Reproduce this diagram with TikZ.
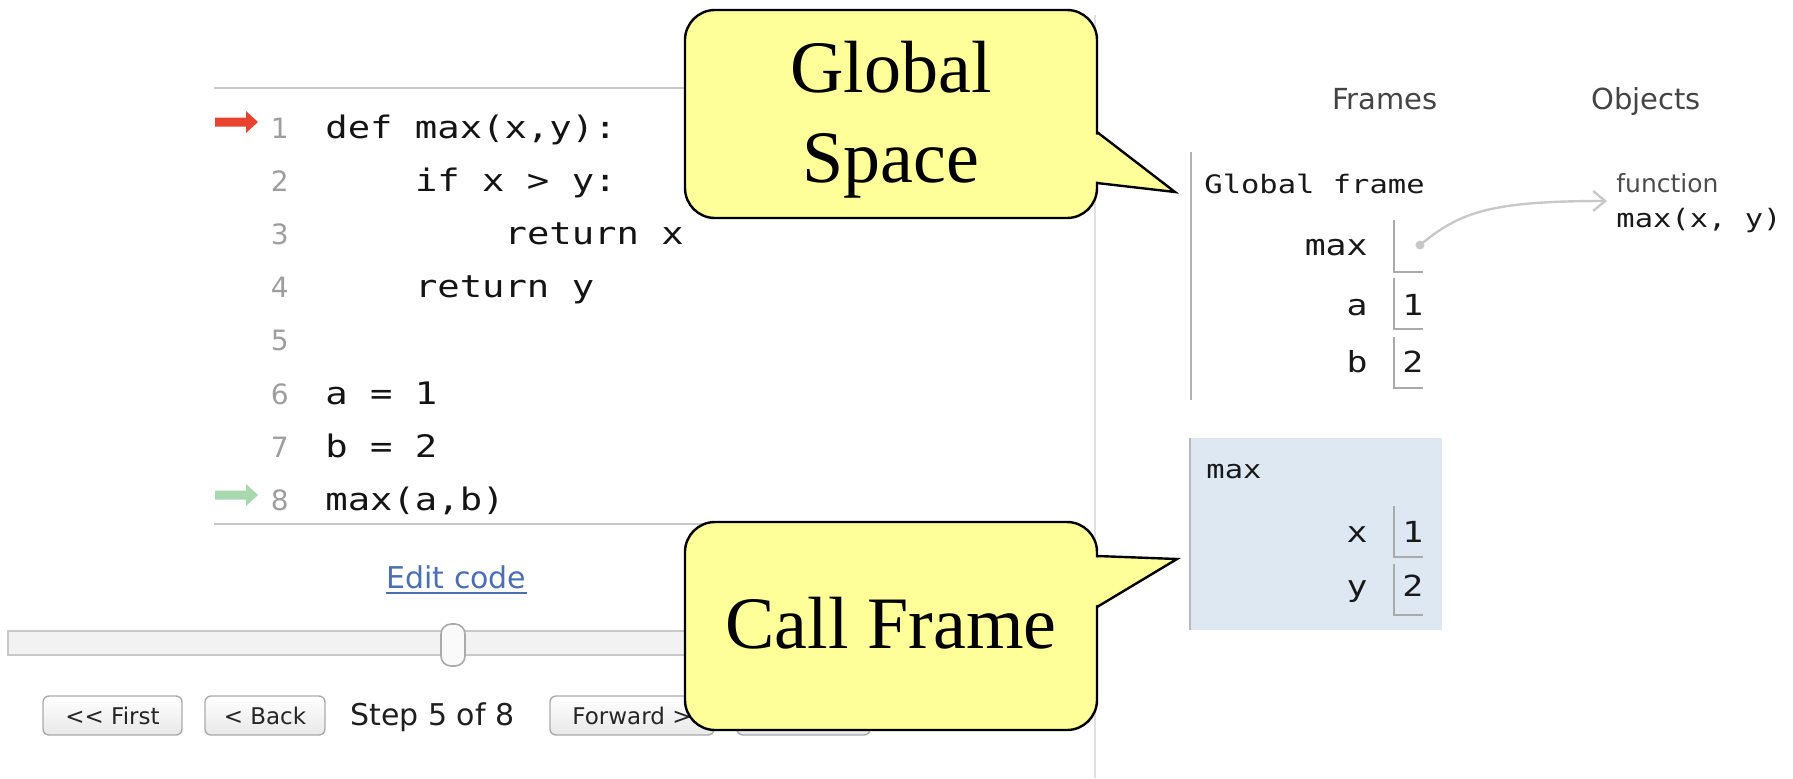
\documentclass[tikz,border=0pt]{standalone}
\usepackage{fontspec}
\setmainfont{Liberation Serif}
\newfontfamily\codefont[FakeStretch=1.2]{DejaVu Sans Mono}
\newfontfamily\uifont{DejaVu Sans}
\usetikzlibrary{arrows.meta}
\definecolor{calloutfill}{HTML}{FFFF99}
\definecolor{arrowred}{HTML}{E8432E}
\definecolor{arrowgreen}{HTML}{A8D8B0}
\definecolor{linkblue}{HTML}{4A6FB5}
\definecolor{framebg}{HTML}{DEE8F3}
\definecolor{rulegray}{HTML}{C8C8C8}
\definecolor{boxgray}{HTML}{AAAAAA}
\definecolor{txtgray}{HTML}{444444}
\begin{document}
\begin{tikzpicture}[x=0.5pt,y=-0.5pt,
  codetxt/.style={font=\codefont\fontsize{15.5}{18}\selectfont, anchor=base west, inner sep=0pt, text=black!92},
  lnum/.style={font=\uifont\fontsize{14}{16}\selectfont, text=black!38, anchor=base east, inner sep=0pt},
  uitxt/.style={font=\uifont\fontsize{15}{18}\selectfont, inner sep=0pt, text=black!88},
  btn/.style={draw=boxgray, line width=0.7pt, rounded corners=3pt, top color=white, bottom color=black!9,
     minimum height=19.5pt, inner sep=0pt, font=\uifont\fontsize{11.5}{14}\selectfont, text=black!85},
  hdr/.style={font=\uifont\fontsize{14.5}{17}\selectfont, text=txtgray, anchor=base, inner sep=0pt},
  varname/.style={font=\codefont\fontsize{14.5}{17}\selectfont, anchor=base east, inner sep=0pt, text=black!90},
  varval/.style={font=\codefont\fontsize{14.5}{17}\selectfont, anchor=base west, inner sep=0pt, text=black!90},
  smallmono/.style={font=\codefont\fontsize{12.7}{15}\selectfont, anchor=base west, inner sep=0pt, text=black!90},
  valbox/.style={draw=boxgray, line width=1pt},
  calloutbody/.style={fill=calloutfill, draw=black, line width=1.2pt, rounded corners=15pt},
  callouttxt/.style={font=\fontsize{37}{44}\selectfont, anchor=base, inner sep=0pt},
  rulesty/.style={draw=rulegray, line width=1pt}
]
\useasboundingbox (0,0) rectangle (1793,778);

% ---------- code panel ----------
\draw[rulesty] (214,88) -- (900,88);
\draw[rulesty] (214,524) -- (900,524);

% arrows
\fill[arrowred] (215,117.5) -- (246,117.5) -- (246,111) -- (258,122) -- (246,133) -- (246,126.5) -- (215,126.5) -- cycle;
\fill[arrowgreen] (215,490.5) -- (246,490.5) -- (246,484) -- (258,495) -- (246,506) -- (246,499.5) -- (215,499.5) -- cycle;

\node[lnum] (n1) at (289,138) {1};
\node[lnum] (n2) at (289,191.2) {2};
\node[lnum] (n3) at (289,244.4) {3};
\node[lnum] (n4) at (289,297.6) {4};
\node[lnum] (n5) at (289,350.8) {5};
\node[lnum] (n6) at (289,404) {6};
\node[lnum] (n7) at (289,457.2) {7};
\node[lnum] (n8) at (289,510.4) {8};

\node[codetxt] (c1) at (325,138) {def max(x,y):};
\node[codetxt] (c2) at (414.6,191.2) {if x > y:};
\node[codetxt] (c3) at (504.2,244.4) {return x};
\node[codetxt] (c4) at (414.6,297.6) {return y};
\node[codetxt] (c6) at (325,404) {a = 1};
\node[codetxt] (c7) at (325,457.2) {b = 2};
\node[codetxt] (c8) at (325,510.4) {max(a,b)};

\node[uitxt, text=linkblue, anchor=base west] (edit) at (386,588) {Edit code};
\draw[linkblue, line width=0.8pt] ([yshift=-2.5pt]edit.base west) -- ([yshift=-2.5pt]edit.base east);

% slider
\draw[draw=rulegray, fill=black!5, line width=0.8pt] (8,631) rectangle (900,655);
\node[draw=boxgray, fill=black!2, line width=0.8pt, rounded corners=5pt, minimum width=12pt, minimum height=21pt, inner sep=0pt] (knob) at (453,645) {};

% buttons
\node[btn, minimum width=69.5pt] (first) at (112.5,715.5) {<< First};
\node[btn, minimum width=60pt] (back) at (265,715.5) {< Back};
\node[uitxt, anchor=base west] (step) at (350,725) {Step 5 of 8};
\node[btn, minimum width=82pt] (fwd) at (632,715.5) {Forward >};
\node[btn, minimum width=66.5pt] (last) at (803.5,715.5) {};

% separator
\draw[draw=black!12, line width=1pt] (1095,15) -- (1095,778);

% ---------- frames panel ----------
\node[hdr] (frames) at (1385,109) {Frames};
\node[hdr] (objects) at (1646,109) {Objects};

\draw[draw=black!30, line width=1pt] (1191,152) -- (1191,400);
\node[smallmono] (gf) at (1204,193) {Global frame};

\node[varname] (vmax) at (1368,255) {max};
\draw[valbox] (1394,220) -- (1394,272) -- (1423,272);
\node[varname] (va) at (1368,315) {a};
\draw[valbox] (1394,278) -- (1394,329) -- (1423,329);
\node[varval] (va1) at (1402,315) {1};
\node[varname] (vb) at (1368,372) {b};
\draw[valbox] (1394,337) -- (1394,388) -- (1423,388);
\node[varval] (vb2) at (1402,372) {2};

\node[circle, fill=rulegray, inner sep=0pt, minimum size=4.5pt] (dot) at (1420,245) {};
\node[font=\uifont\fontsize{12.5}{15}\selectfont, text=black!70, anchor=base west, inner sep=0pt] (fn) at (1616,192) {function};
\node[smallmono] (fsig) at (1616,227) {max(x, y)};
\coordinate (fnin) at (1607,201);
\draw[draw=rulegray, line width=1.2pt, -{Straight Barb[length=6pt,width=10pt]}] (dot.center) .. controls (1460,212) and (1490,201) .. (fnin);

% call frame
\fill[framebg] (1189,438) rectangle (1442,630);
\draw[draw=black!28, line width=1.2pt] (1190,438) -- (1190,630);
\node[smallmono] (cfmax) at (1206,478) {max};
\node[varname] (vx) at (1368,542) {x};
\draw[valbox] (1394,506) -- (1394,557) -- (1423,557);
\node[varval] (vx1) at (1402,542) {1};
\node[varname] (vy) at (1368,596) {y};
\draw[valbox] (1394,564) -- (1394,615) -- (1423,615);
\node[varval] (vy2) at (1402,596) {2};

% ---------- callouts ----------
\path[calloutbody] (685,10) rectangle (1097,218);
\fill[calloutfill] (1094,134.5) -- (1099,134.5) -- (1175,192) -- (1099,181.6) -- (1094,181.6) -- cycle;
\draw[line width=1.2pt, line join=miter] (1097,132) -- (1175,192) -- (1097,183);
\node[callouttxt] (g1) at (891,92) {Global};
\node[callouttxt] (g2) at (891,182) {Space};

\path[calloutbody] (685,522) rectangle (1097,730);
\fill[calloutfill] (1094,557.4) -- (1099,557.4) -- (1177,559) -- (1099,605) -- (1094,605) -- cycle;
\draw[line width=1.2pt, line join=miter] (1097,556) -- (1177,559) -- (1097,607);
\node[callouttxt] (cf) at (891,648) {Call Frame};
\end{tikzpicture}
\end{document}
